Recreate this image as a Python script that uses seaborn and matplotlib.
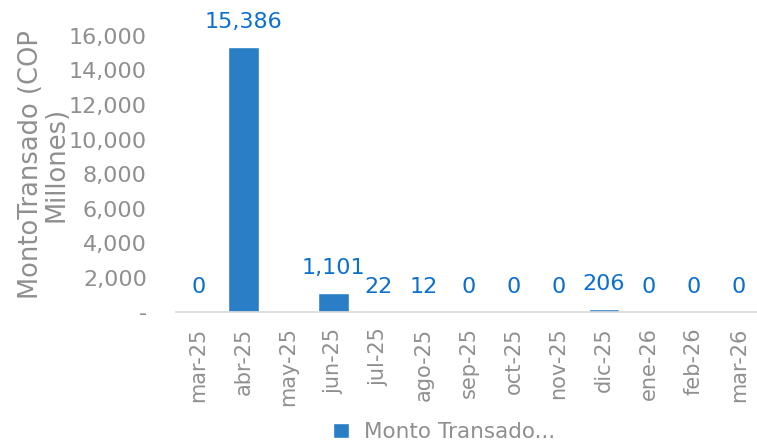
import numpy as np
import pandas as pd
import matplotlib
matplotlib.use('Agg')
import matplotlib.pyplot as plt
import seaborn as sns

# data
meses = ['mar-25', 'abr-25', 'may-25', 'jun-25', 'jul-25', 'ago-25', 'sep-25',
         'oct-25', 'nov-25', 'dic-25', 'ene-26', 'feb-26', 'mar-26']
monto = [0, 15386, np.nan, 1101, 22, 12, 0, 0, 0, 206, 0, 0, 0]
yticks = [0, 2000, 4000, 6000, 8000, 10000, 12000, 14000, 16000]

df = pd.DataFrame({'mes': meses, 'monto': monto})

sns.set_style('white')
plt.rcParams['font.family'] = ['DejaVu Sans']

gris = '#8f8f8f'
azul_barra = '#2a7ec6'
azul_texto = '#0a6fd1'

fig = plt.figure(figsize=(7.57, 4.44), dpi=100)
# axes a bit wider than the figure, like the original (last tick cut off)
ax = fig.add_axes([0.2325, 0.297, 0.773, 0.622])

sns.barplot(data=df, x='mes', y='monto', color=azul_barra, width=0.67,
            saturation=1, ax=ax, label='Monto Transado...')

# data labels
for i, v in enumerate(monto):
    if np.isnan(v):
        continue
    ax.annotate(f'{v:,.0f}', (i, v), xytext=(0, 18), textcoords='offset points',
                ha='center', va='center', color=azul_texto, fontsize=16,
                annotation_clip=False)

ax.set_ylim(0, 16000)
ax.set_xlim(-0.5, len(meses) - 0.5)
ax.set_yticks(yticks)
ax.set_yticklabels(['-'] + [f'{t:,}' for t in yticks[1:]])
ax.tick_params(axis='y', length=0, colors=gris, labelsize=16, pad=21)

# x ticks between categories
ax.set_xticks(np.arange(len(meses)))
ax.set_xticklabels(meses, rotation=90)
ax.tick_params(axis='x', length=0, colors=gris, labelsize=15, pad=11)
ax.set_xticks(np.arange(len(meses) + 1) - 0.5, minor=True)
ax.tick_params(axis='x', which='minor', length=6, width=1, color='#d9d9d9',
               direction='out')
ax.set_xlabel('')
ax.set_ylabel('MontoTransado (COP\nMillones)', color=gris, fontsize=18.5,
              linespacing=0.95, va='center')
ax.yaxis.set_label_coords(-0.226, 0.536)

for s in ['top', 'right', 'left']:
    ax.spines[s].set_visible(False)
ax.spines['bottom'].set_color('#d9d9d9')
ax.spines['bottom'].set_linewidth(1.2)

h, l = ax.get_legend_handles_labels()
if ax.legend_:
    ax.legend_.remove()
fig.legend(h, l, loc='center', bbox_to_anchor=(0.587, 0.027), frameon=False,
           fontsize=15.5, labelcolor=gris, handlelength=0.75, handleheight=0.75,
           handletextpad=0.7, borderaxespad=0)

fig.savefig('out.png', dpi=100)
